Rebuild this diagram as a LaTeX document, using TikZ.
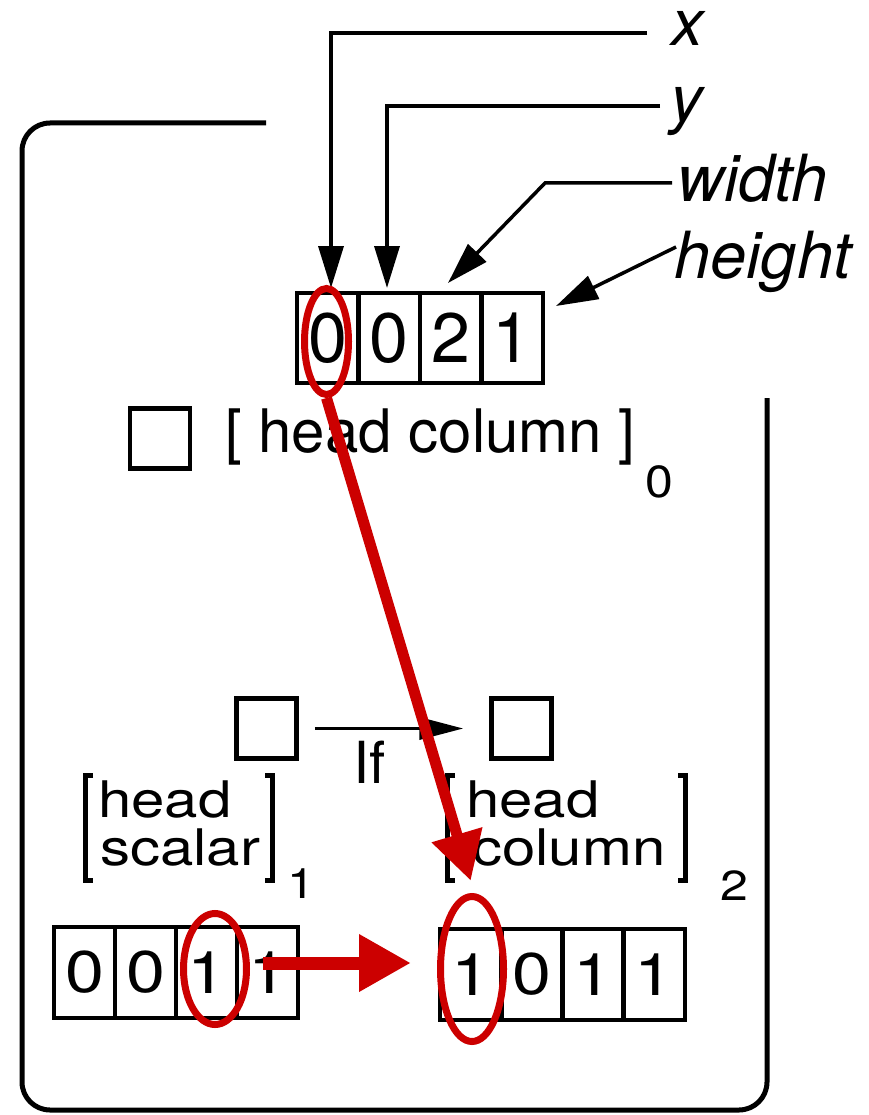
\documentclass[tikz,border=0pt]{standalone}
\usepackage{fontspec}
\setmainfont{TeX Gyre Heros}
\usetikzlibrary{arrows.meta,shapes.geometric}
\definecolor{hired}{HTML}{CC0000}
\newcommand{\vsq}[1]{\scalebox{1}[0.84]{#1}}
\begin{document}
\begin{tikzpicture}[x=1pt,y=-1pt,
  cellt/.style={draw, line width=4.5pt, minimum width=61.5pt, minimum height=90pt, inner sep=0pt, font=\fontsize{70}{80}\selectfont},
  cellb/.style={draw, line width=4.5pt, minimum width=61pt, minimum height=91pt, inner sep=0pt, font=\fontsize{70}{80}\selectfont},
  sqbox/.style={draw, line width=4.5pt, minimum size=60pt, inner sep=0pt},
  lab/.style={anchor=base west, inner sep=0pt, font=\fontsize{60}{72}\selectfont},
  ital/.style={anchor=base west, inner sep=0pt, font=\fontsize{65}{78}\selectfont\itshape},
  subs/.style={anchor=base west, inner sep=0pt, font=\fontsize{50}{60}\selectfont},
  blk/.style={line width=3.5pt, -{Triangle[length=42pt,width=25pt]}},
  redell/.style={ellipse, draw=hired, line width=7pt, inner sep=0pt},
  bracket/.style={line width=5.5pt}
]
\useasboundingbox (0,0) rectangle (869,1115);

% frame
\draw[line width=5pt, rounded corners=28pt] (266,123) -- (22,123) -- (22,1110) -- (767,1110) -- (767,398);

% top record
\node[cellt] (t1) at (327.75,338) {0};
\node[cellt] (t2) at (389.25,338) {0};
\node[cellt] (t3) at (450.75,338) {2};
\node[cellt] (t4) at (512.25,338) {1};

% labels top
\node[ital] (lx) at (671,46) {x};
\node[ital] (ly) at (670,122) {y};
\node[ital] (lw) at (677,202) {width};
\node[ital] (lh) at (674,278) {height};

\coordinate (xs) at (647,33);
\coordinate (xt) at (331,288);
\coordinate (ys) at (660,106);
\coordinate (yt) at (387,288);
\coordinate (ws) at (672,183);
\coordinate (wk) at (545,183);
\coordinate (wt) at (448,283);
\coordinate (hs) at (676,247);
\coordinate (ht) at (556,306);
\draw[blk] (xs) -| (xt);
\draw[blk] (ys) -| (yt);
\draw[blk] (ws) -- (wk) -- (wt);
\draw[blk] (hs) -- (ht);

% head column 0
\node[sqbox] (sq0) at (160,438.5) {};
\node[lab] (hc0) at (225,452) {[ head column ]};
\node[subs] (sub0) at (645,497) {\scalebox{1}[0.9]{0}};

% if row
\node[sqbox] (sq1) at (266.5,728.5) {};
\node[sqbox] (sq2) at (521.5,728.5) {};
\draw[line width=3.5pt, -{Triangle[length=44pt,width=22pt]}, shorten <=16pt, shorten >=26pt] (sq1) -- (sq2);
\node[lab, font=\fontsize{58}{70}\selectfont] (lif) at (353.5,783) {If};

% head scalar 1
\draw[bracket] (93,775.5) -- (85.5,775.5) -- (85.5,880.5) -- (93,880.5);
\draw[bracket] (265,775.5) -- (272.5,775.5) -- (272.5,880.5) -- (265,880.5);
\node[lab] (hs1a) at (98,817) {\vsq{head}};
\node[lab] (hs1b) at (100,865) {\vsq{scalar}};
\node[subs] (sub1) at (287.5,898) {\vsq{1}};

% head column 2
\draw[bracket] (455,775.5) -- (447.5,775.5) -- (447.5,880.5) -- (455,880.5);
\draw[bracket] (678,775.5) -- (685.5,775.5) -- (685.5,880.5) -- (678,880.5);
\node[lab] (hc2a) at (466,817) {\vsq{head}};
\node[lab] (hc2b) at (472,865) {\vsq{column}};
\node[subs] (sub2) at (720,900) {\vsq{2}};

% bottom records
\node[cellb] (a1) at (84.5,972.5) {\vsq{0}};
\node[cellb] (a2) at (145.5,972.5) {\vsq{0}};
\node[cellb] (a3) at (206.5,972.5) {\vsq{1}};
\node[cellb] (a4) at (267.5,972.5) {\vsq{1}};
\node[cellb] (b1) at (470.6,974.5) {\vsq{1}};
\node[cellb] (b2) at (531.9,974.5) {\vsq{0}};
\node[cellb] (b3) at (593.1,974.5) {\vsq{1}};
\node[cellb] (b4) at (654.4,974.5) {\vsq{1}};

% red highlights
\node[redell, minimum width=44pt, minimum height=106pt] (e1) at (326.5,341.5) {};
\node[redell, minimum width=63pt, minimum height=111pt] (e2) at (215,969) {};
\node[redell, minimum width=63pt, minimum height=145pt] (e3) at (472,969) {};
\coordinate (rt) at (470.7,880.7);
\draw[hired, line width=11pt, -{Triangle[length=48pt,width=50pt]}] (e1.south) -- (rt);
\coordinate (hs0) at (263,963);
\coordinate (ht0) at (411,963);
\draw[hired, line width=13pt, -{Triangle[length=52pt,width=54pt]}] (hs0) -- (ht0);
\end{tikzpicture}
\end{document}
